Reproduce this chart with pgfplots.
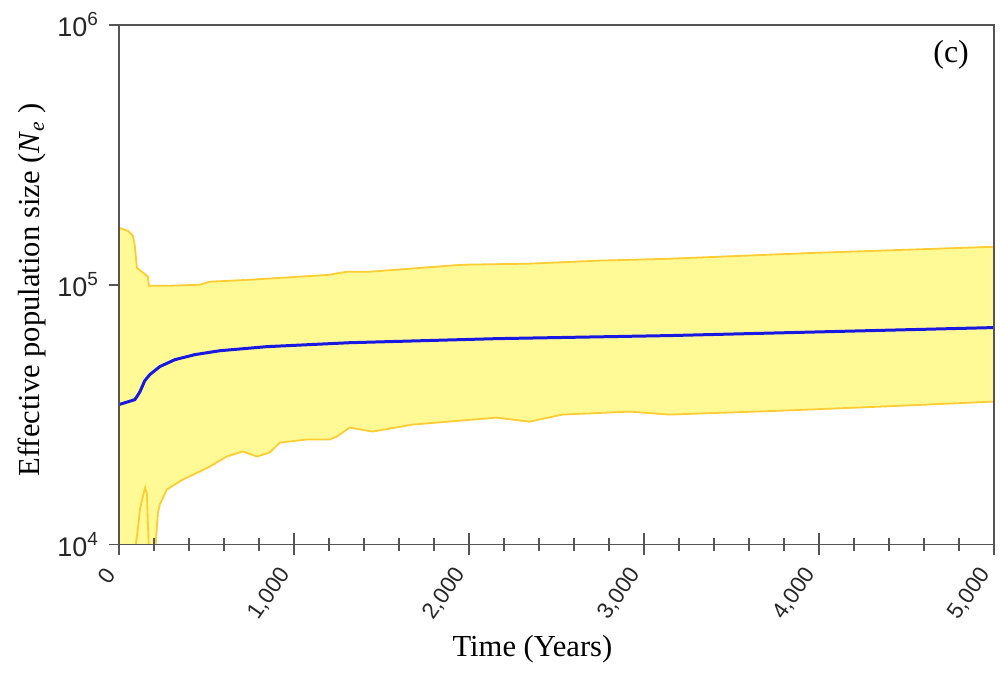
\documentclass[border=0pt]{standalone}
\usepackage{fontspec}
\setmainfont{Liberation Serif}
\newfontfamily\tickfont{Liberation Sans}
\usepackage{pgfplots}
\usepackage{pgfplotstable}
\pgfplotsset{compat=1.18}
\usepgfplotslibrary{fillbetween}
\definecolor{bandfill}{RGB}{255,250,150}
\definecolor{bandedge}{RGB}{255,205,50}
\definecolor{meanblue}{RGB}{25,25,225}
\definecolor{axisgray}{RGB}{85,85,85}
\newcommand{\tpow}[1]{10\raisebox{5.5pt}{\fontsize{9.5}{10}\selectfont #1}}

\pgfplotstableread{
t N
0 165600
51 161300
80 154200
91 141300
103 116200
131 112200
154 109200
166 107400
171 99100
291 99100
462 100000
519 102700
748 104500
1033 107400
1204 109200
1301 112200
1433 112200
1963 119400
2346 120500
2728 123700
3145 125900
3984 132700
5000 140000
}\uptab

\pgfplotstableread{
t N
0 10000
200 10000
210 10000
223 13270
234 14250
274 16280
365 17780
462 19090
519 19950
616 21800
708 22800
788 21800
862 22600
919 24660
1073 25350
1204 25350
1244 26000
1318 28180
1450 27200
1678 28940
2158 30780
2346 29700
2534 31620
2917 32470
3145 31620
3790 32750
4361 33960
5000 35480
}\lotab

\pgfplotstableread{
t N
0 34550
91 36100
103 37100
120 38700
148 42700
177 45100
234 48400
320 51450
434 53800
577 55700
845 57750
1318 59800
2158 62000
3145 63700
5000 68400
}\meantab

\pgfplotstableread{
t N
97 10000
112 12000
120 13640
137 15300
150 16560
160 15700
170 10000
}\spiketab

\begin{document}
\begin{tikzpicture}
\begin{axis}[
  at={(0,0)}, anchor=south west,
  scale only axis, width=438pt, height=260pt,
  xmin=0, xmax=5000, ymin=1e4, ymax=1e6, ymode=log,
  clip=false,
  axis line style={draw=axisgray, line width=0.8pt},
  xtick={0,1000,2000,3000,4000,5000},
  xticklabels={0,{1,000},{2,000},{3,000},{4,000},{5,000}},
  minor x tick num=4,
  xtick pos=bottom, ytick pos=left,
  tick align=center,
  major tick length=11pt, minor tick length=6.5pt,
  every tick/.style={draw=axisgray, line width=0.8pt},
  ytick={1e4,1e5,1e6},
  yticklabels={\tpow{4},\tpow{5},\tpow{6}},
  yminorticks=false,
  ytick style={draw=none},
  tick label style={text=black!85},
  xticklabel style={font=\tickfont\fontsize{11.3}{13}\selectfont, rotate=55, anchor=east, yshift=-1pt, xshift=-5pt},
  yticklabel style={font=\tickfont\fontsize{13.5}{15}\selectfont, xshift=-1.5pt},
  xlabel={Time (Years)},
  ylabel={Effective population size (\textit{N}\textsubscript{\textit{e}} )},
  label style={font=\fontsize{15.3}{18}\selectfont},
  xlabel style={at={(axis description cs:0.4726,-0.2019)}, anchor=center},
  ylabel style={at={(axis description cs:-0.0993,0.49)}, anchor=center},
  axis on top,
]
\addplot[draw=none, name path=up] table[x=t, y=N] {\uptab};
\addplot[draw=none, name path=lo] table[x=t, y=N] {\lotab};
\addplot[fill=bandfill, draw=none] fill between[of=up and lo];
\addplot[bandedge, line width=0.9pt] table[x=t, y=N] {\uptab};
\addplot[bandedge, line width=0.9pt, restrict x to domain=205:5000] table[x=t, y=N] {\lotab};
\addplot[bandedge, line width=0.9pt] table[x=t, y=N] {\spiketab};
\addplot[meanblue, line width=1.5pt] table[x=t, y=N] {\meantab};
\draw[axisgray, line width=0.8pt] ([xshift=-5pt]axis cs:0,10000) -- (axis cs:0,10000);
\draw[axisgray, line width=0.8pt] ([xshift=-5pt]axis cs:0,100000) -- (axis cs:0,100000);
\draw[axisgray, line width=0.8pt] ([xshift=-5pt]axis cs:0,1000000) -- (axis cs:0,1000000);
\node[font=\fontsize{16}{18}\selectfont] at (rel axis cs:0.951,0.942) {(c)};
\end{axis}
\pgfresetboundingbox
\path[use as bounding box] (-59.5pt,-65pt) rectangle (441.5pt,272.5pt);
\end{tikzpicture}
\end{document}
